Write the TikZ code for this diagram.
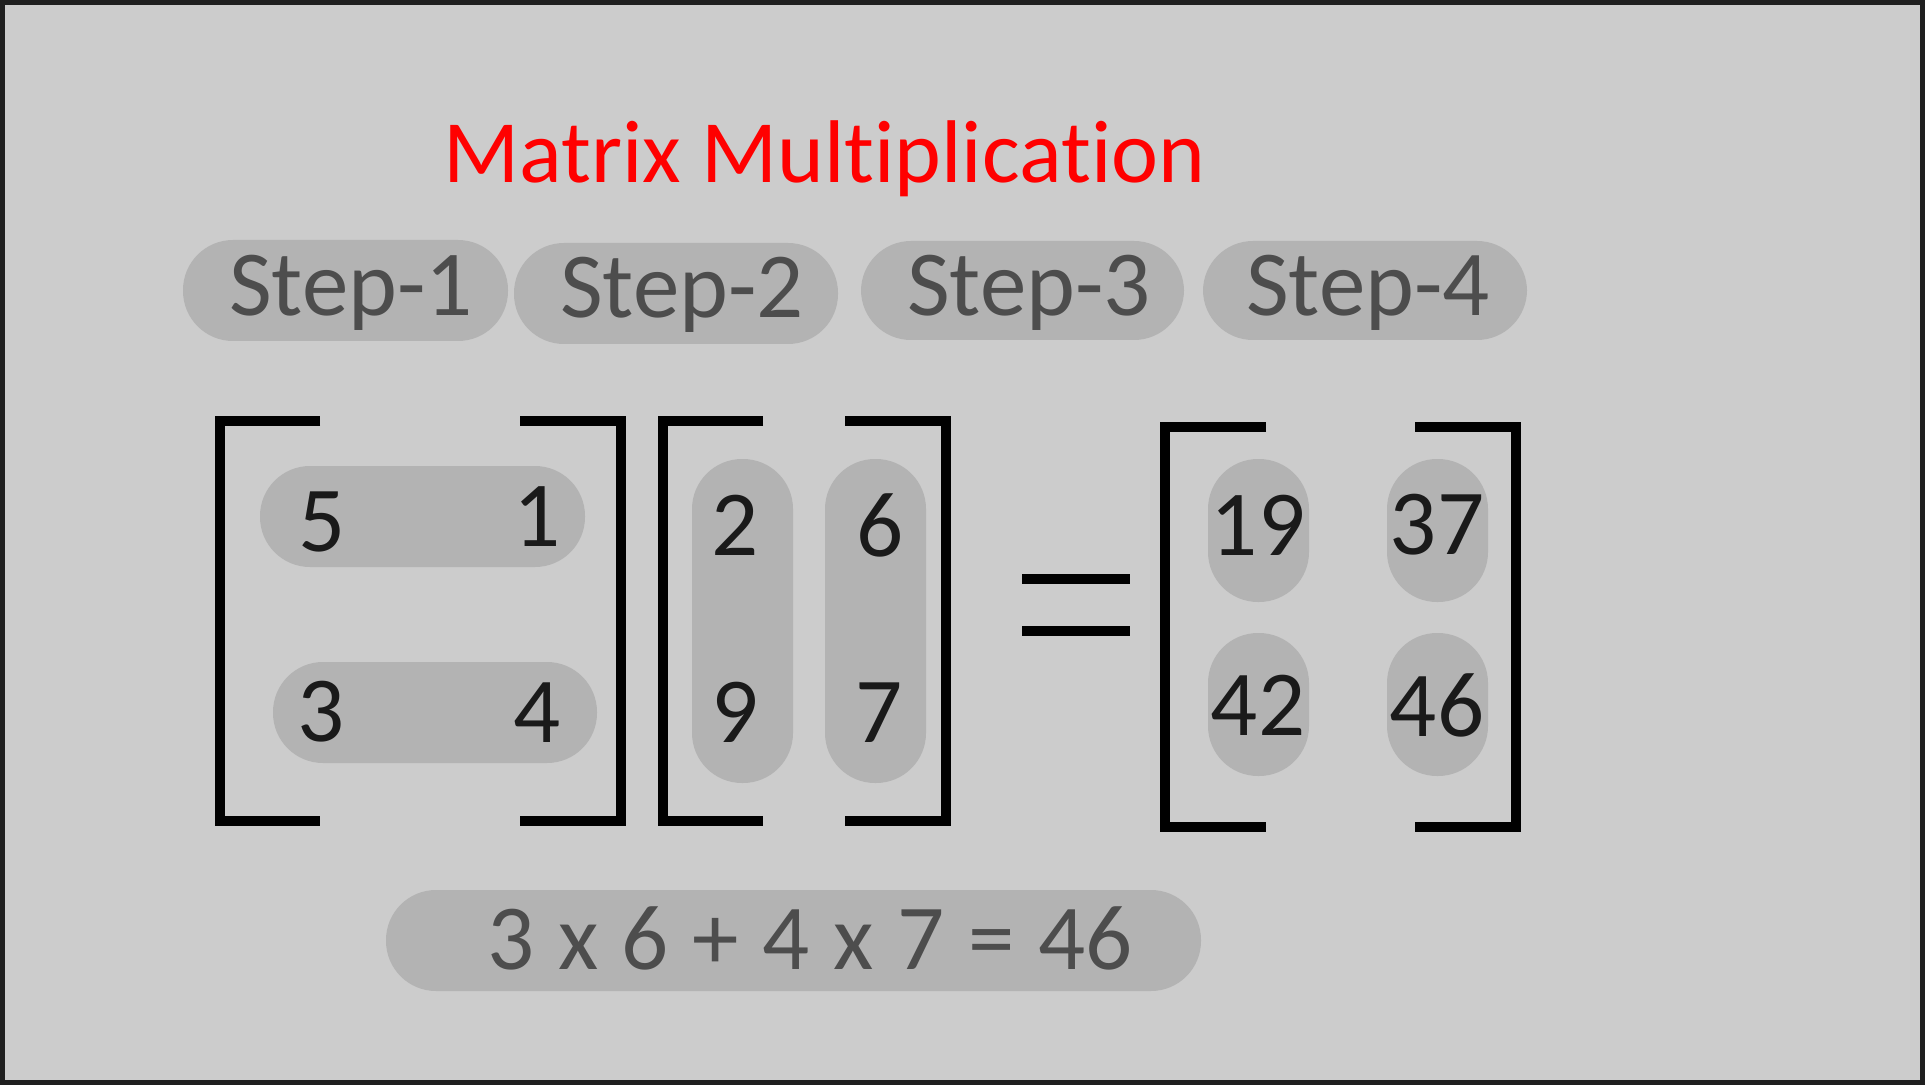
\documentclass[tikz,border=0pt]{standalone}
\usepackage{fontspec}
\setmainfont[Ligatures=NoCommon]{Carlito}
\definecolor{bgGray}{HTML}{CCCCCC}
\definecolor{pillGray}{HTML}{B3B3B3}
\definecolor{stepGray}{HTML}{4D4D4D}
\definecolor{numBlack}{HTML}{1A1A1A}
\definecolor{frameBlack}{HTML}{1F1F1F}
\begin{document}
\begin{tikzpicture}[x=0.5pt,y=-0.5pt,
		pill/.style={fill=pillGray,rounded corners=25pt},
		bracket/.style={line width=5pt},
		num/.style={text=numBlack,inner sep=0pt,font=\fontsize{46.5}{55}\selectfont},
		steptext/.style={text=stepGray,inner sep=0pt,anchor=base,font=\fontsize{46.5}{55}\selectfont}]
		\useasboundingbox (0,0) rectangle (1925,1085);
		\fill[bgGray] (0,0) rectangle (1925,1085);
		\draw[frameBlack,line width=2.5pt] (2.5,2.5) rectangle (1922.5,1082.5);
		\node[text=red,inner sep=0pt,anchor=base,font=\fontsize{44.5}{55}\selectfont] (title) at (824.5,183) {Matrix Multiplication};
		% step pills
		\fill[pill] (183,240) rectangle (508,341);
		\fill[pill] (514,243) rectangle (838,344);
		\fill[pill] (861,241) rectangle (1184,340);
		\fill[pill] (1203,241) rectangle (1527,340);
		\node[steptext] (step1) at (351,315) {Step-1};
		\node[steptext] (step2) at (682,318) {Step-2};
		\node[steptext] (step3) at (1029,315) {Step-3};
		\node[steptext] (step4) at (1368,315) {Step-4};
		% first matrix
		\draw[bracket] (320,421) -| (220,821) -- (320,821);
		\draw[bracket] (520,421) -| (620.5,821) -- (520,821);
		\fill[pill] (260,466) rectangle (585,567);
		\fill[pill] (273,662) rectangle (597,763);
		\node[num] (a11) at (322,522) {5};
		\node[num] (a12) at (537,517) {1};
		\node[num] (a21) at (321,712) {3};
		\node[num] (a22) at (537,713) {4};
		% second matrix
		\draw[bracket] (763,421) -| (663,821) -- (763,821);
		\draw[bracket] (845,421) -| (945.5,821) -- (845,821);
		\fill[pill] (692,459) rectangle (793,783);
		\fill[pill] (825,459) rectangle (926,783);
		\node[num] (b11) at (735.5,525) {2};
		\node[num] (b12) at (880,525) {6};
		\node[num] (b21) at (735.5,712) {9};
		\node[num] (b22) at (879,713) {7};
		% equals
		\draw[bracket] (1022,579) -- (1130,579);
		\draw[bracket] (1022,631) -- (1130,631);
		% result
		\draw[bracket] (1266,427) -| (1165,827) -- (1266,827);
		\draw[bracket] (1415,427) -| (1515.5,827) -- (1415,827);
		\fill[pill] (1208,459) rectangle (1309,602);
		\fill[pill] (1387,459) rectangle (1488,602);
		\fill[pill] (1208,633) rectangle (1309,776);
		\fill[pill] (1387,633) rectangle (1488,776);
		\node[num] (c11) at (1258,525) {19};
		\node[num] (c12) at (1437,525) {37};
		\node[num] (c21) at (1258,705) {42};
		\node[num] (c22) at (1437,705) {46};
		% worked sum
		\fill[pill] (386,890) rectangle (1201,991);
		\node[steptext] (sum) at (810,969) {\spaceskip=0.255em\relax 3 x 6 + 4 x 7 = 46};
	\end{tikzpicture}
\end{document}
